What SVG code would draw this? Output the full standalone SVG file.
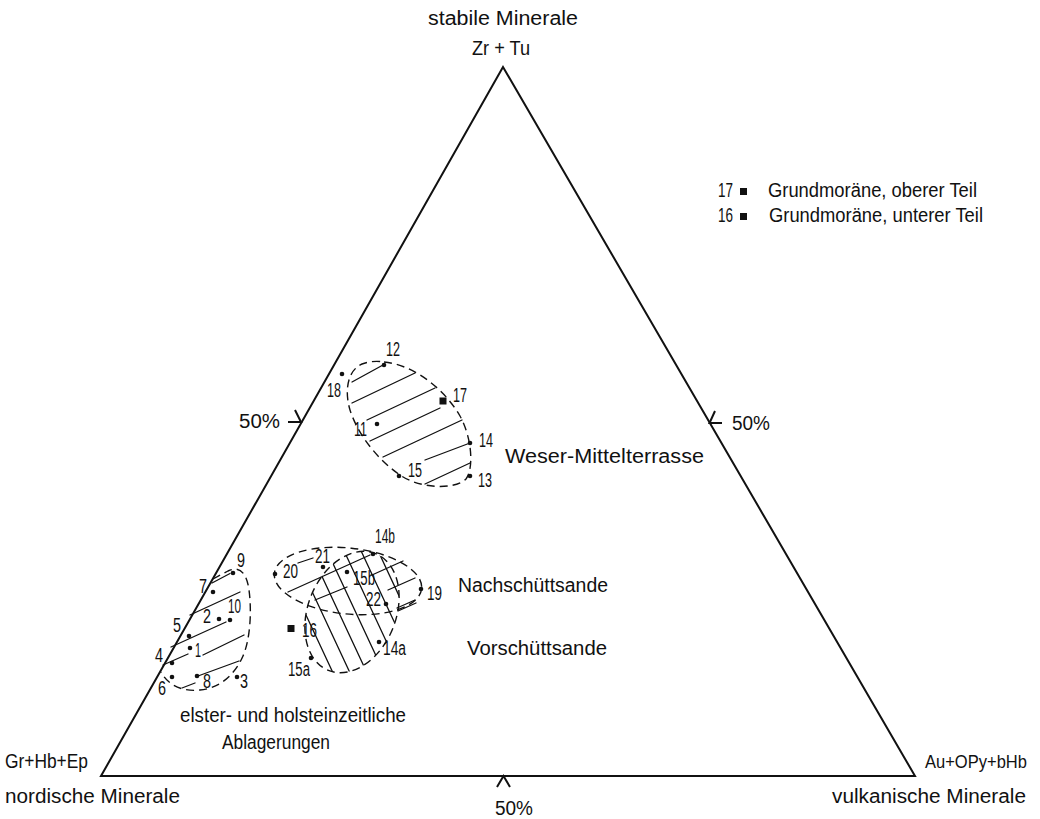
<svg xmlns="http://www.w3.org/2000/svg" width="1040" height="819" viewBox="0 0 1040 819">
<style>
.ln{stroke:#111;stroke-width:2;fill:none;stroke-linejoin:miter}
.h{stroke:#111;stroke-width:1.3;fill:none;stroke-linecap:round}
.d{stroke:#111;stroke-width:1.4;fill:none;stroke-dasharray:8 5}
.t{font-family:"Liberation Sans",Arial,sans-serif;font-size:20px;fill:#111}
.dot{fill:#111}
</style>
<defs>
<clipPath id="clipV">
<ellipse cx="352" cy="612" rx="44" ry="63" transform="rotate(22 352 612)"/>
</clipPath>
</defs>
<rect width="1040" height="819" fill="#fff"/>

<g id="triangle">
<polygon class="ln" points="503,67 101,776 915,776"/>
<polyline class="ln" points="288,422 301,422 295,410"/>
<polyline class="ln" points="722,423 709.5,423 715,411"/>
<polyline class="ln" points="497,787 503.5,776 510,787"/>
</g>

<g id="axis-labels" class="t">
<text x="428" y="25" textLength="150" lengthAdjust="spacingAndGlyphs">stabile Minerale</text>
<text x="472" y="55" textLength="58" lengthAdjust="spacingAndGlyphs">Zr + Tu</text>
<text x="5" y="768" textLength="83" lengthAdjust="spacingAndGlyphs">Gr+Hb+Ep</text>
<text x="5" y="803" textLength="175" lengthAdjust="spacingAndGlyphs">nordische Minerale</text>
<text x="925" y="768" font-size="18" textLength="102" lengthAdjust="spacingAndGlyphs">Au+OPy+bHb</text>
<text x="832" y="803" textLength="194" lengthAdjust="spacingAndGlyphs">vulkanische Minerale</text>
<text x="239" y="428" textLength="41" lengthAdjust="spacingAndGlyphs">50%</text>
<text x="732" y="430" textLength="38" lengthAdjust="spacingAndGlyphs">50%</text>
<text x="495" y="815" textLength="38" lengthAdjust="spacingAndGlyphs">50%</text>
</g>

<g id="legend" class="t">
<text x="733" y="197" text-anchor="end" textLength="15" lengthAdjust="spacingAndGlyphs">17</text>
<rect class="dot" x="740" y="188" width="7" height="7"/>
<text x="768" y="197" textLength="209" lengthAdjust="spacingAndGlyphs">Grundmoräne, oberer Teil</text>
<text x="733" y="222" text-anchor="end" textLength="15" lengthAdjust="spacingAndGlyphs">16</text>
<rect class="dot" x="740" y="213" width="7" height="7"/>
<text x="769" y="222" textLength="214" lengthAdjust="spacingAndGlyphs">Grundmoräne, unterer Teil</text>
</g>

<g id="cluster-weser">
<path class="d" d="M384,362 C415,365 445,390 460,416 C472,438 474,468 466,479 C455,490 420,489 400,475 C378,460 358,435 350,410 C344,390 348,370 362,364 C370,361 378,361 384,362 Z"/>
<path class="h" d="M352,382 L383,365 M352,403 L415,373 M367,420 L435,388 M370,441 L440,408 M383,457 L462,420 M425,460 L470,443 M425,484 L470,463"/>
<text class="t" x="505" y="463" textLength="199" lengthAdjust="spacingAndGlyphs">Weser-Mittelterrasse</text>
</g>
<g id="p12"><circle class="dot" cx="384" cy="365" r="2.3"/><text class="t" x="386" y="356" textLength="14" lengthAdjust="spacingAndGlyphs">12</text></g>
<g id="p18"><circle class="dot" cx="342" cy="374" r="2.3"/><text class="t" x="341" y="397" text-anchor="end" textLength="14" lengthAdjust="spacingAndGlyphs">18</text></g>
<g id="p17"><rect class="dot" x="439.5" y="397.5" width="7" height="7"/><text class="t" x="453" y="402" textLength="14" lengthAdjust="spacingAndGlyphs">17</text></g>
<g id="p11"><circle class="dot" cx="377" cy="424" r="2.3"/><text class="t" x="367" y="436" text-anchor="end" textLength="13" lengthAdjust="spacingAndGlyphs">11</text></g>
<g id="p14"><circle class="dot" cx="470" cy="443" r="2.3"/><text class="t" x="479" y="447" textLength="14" lengthAdjust="spacingAndGlyphs">14</text></g>
<g id="p15"><circle class="dot" cx="399" cy="476" r="2.3"/><text class="t" x="408" y="477" textLength="14" lengthAdjust="spacingAndGlyphs">15</text></g>
<g id="p13"><circle class="dot" cx="470" cy="476" r="2.3"/><text class="t" x="478" y="487" textLength="14" lengthAdjust="spacingAndGlyphs">13</text></g>

<g id="cluster-elster">
<path class="d" d="M213,579 L228,571 C240,565 247,574 249,590 C252,612 250,640 243,656 C236,672 222,688 200,690 C182,692 168,685 161,672"/>
<path class="h" d="M212,583 L230,573.5 M190,615 L240,592 M171,647 L226,622 M163,665 L188,654 M203,655 L244,635 M198,676 L239,661 M182,688 L195,683"/>
<text class="t" x="180" y="722" textLength="226" lengthAdjust="spacingAndGlyphs">elster- und holsteinzeitliche</text>
<text class="t" x="222" y="749" textLength="108" lengthAdjust="spacingAndGlyphs">Ablagerungen</text>
</g>
<g id="p9"><circle class="dot" cx="233" cy="573" r="2.3"/><text class="t" x="237" y="567" textLength="8" lengthAdjust="spacingAndGlyphs">9</text></g>
<g id="p7"><circle class="dot" cx="213" cy="592" r="2.3"/><text class="t" x="199" y="593" textLength="8" lengthAdjust="spacingAndGlyphs">7</text></g>
<g id="p2"><circle class="dot" cx="219" cy="619" r="2.3"/><text class="t" x="203" y="623" textLength="8" lengthAdjust="spacingAndGlyphs">2</text></g>
<g id="p10"><circle class="dot" cx="230" cy="620" r="2.3"/><text class="t" x="228" y="613" textLength="13" lengthAdjust="spacingAndGlyphs">10</text></g>
<g id="p5"><circle class="dot" cx="189" cy="636" r="2.3"/><text class="t" x="173" y="632" textLength="8" lengthAdjust="spacingAndGlyphs">5</text></g>
<g id="p1"><circle class="dot" cx="190" cy="648" r="2.3"/><text class="t" x="195" y="657" textLength="6" lengthAdjust="spacingAndGlyphs">1</text></g>
<g id="p4"><circle class="dot" cx="172" cy="663" r="2.3"/><text class="t" x="155" y="662" textLength="8" lengthAdjust="spacingAndGlyphs">4</text></g>
<g id="p6"><circle class="dot" cx="172" cy="677" r="2.3"/><text class="t" x="158" y="695" textLength="8" lengthAdjust="spacingAndGlyphs">6</text></g>
<g id="p8"><circle class="dot" cx="197" cy="676" r="2.3"/><text class="t" x="203" y="688" textLength="8" lengthAdjust="spacingAndGlyphs">8</text></g>
<g id="p3"><circle class="dot" cx="237" cy="677" r="2.3"/><text class="t" x="240" y="688" textLength="8" lengthAdjust="spacingAndGlyphs">3</text></g>

<g id="cluster-vorschuett">
<path class="h" clip-path="url(#clipV)" d="M254,540 L324,690 M271,540 L341,690 M288,540 L358,690 M305,540 L375,690 M322,540 L392,690 M339,540 L409,690 M356,540 L426,690 M373,540 L443,690"/>
<ellipse class="d" cx="352" cy="612" rx="44" ry="63" transform="rotate(22 352 612)"/>
<text class="t" x="467" y="655" textLength="140" lengthAdjust="spacingAndGlyphs">Vorschüttsande</text>
</g>
<g id="cluster-nachschuett">
<ellipse class="d" cx="348" cy="581" rx="74" ry="33" transform="rotate(6 348 581)"/>
<path class="h" d="M298,563 L313,558 M288,592 L370,555 M315,600 L347,587 M372,575 L403,561 M388,590 L415,578 M397,608 L415,600 M398,611 L416,603"/>
<text class="t" x="458" y="592" textLength="150" lengthAdjust="spacingAndGlyphs">Nachschüttsande</text>
</g>
<g id="p14b"><circle class="dot" cx="373" cy="554" r="2.3"/><text class="t" x="375" y="543" textLength="20" lengthAdjust="spacingAndGlyphs">14b</text></g>
<g id="p21"><circle class="dot" cx="323" cy="567" r="2.3"/><text class="t" x="315" y="563" textLength="15" lengthAdjust="spacingAndGlyphs">21</text></g>
<g id="p20"><circle class="dot" cx="275" cy="574" r="2.3"/><text class="t" x="283" y="578" textLength="15" lengthAdjust="spacingAndGlyphs">20</text></g>
<g id="p15b"><circle class="dot" cx="347" cy="572" r="2.3"/><text class="t" x="353" y="585" textLength="22" lengthAdjust="spacingAndGlyphs">15b</text></g>
<g id="p22"><circle class="dot" cx="386" cy="604" r="2.3"/><text class="t" x="366" y="606" textLength="15" lengthAdjust="spacingAndGlyphs">22</text></g>
<g id="p19"><circle class="dot" cx="421" cy="589" r="2.3"/><text class="t" x="427" y="600" textLength="15" lengthAdjust="spacingAndGlyphs">19</text></g>
<g id="p16"><rect class="dot" x="287.5" y="625" width="7" height="7"/><text class="t" x="302" y="637" textLength="15" lengthAdjust="spacingAndGlyphs">16</text></g>
<g id="p14a"><circle class="dot" cx="379" cy="642" r="2.3"/><text class="t" x="383" y="655" textLength="23" lengthAdjust="spacingAndGlyphs">14a</text></g>
<g id="p15a"><circle class="dot" cx="311" cy="658" r="2.3"/><text class="t" x="288" y="676" textLength="22" lengthAdjust="spacingAndGlyphs">15a</text></g>
</svg>
